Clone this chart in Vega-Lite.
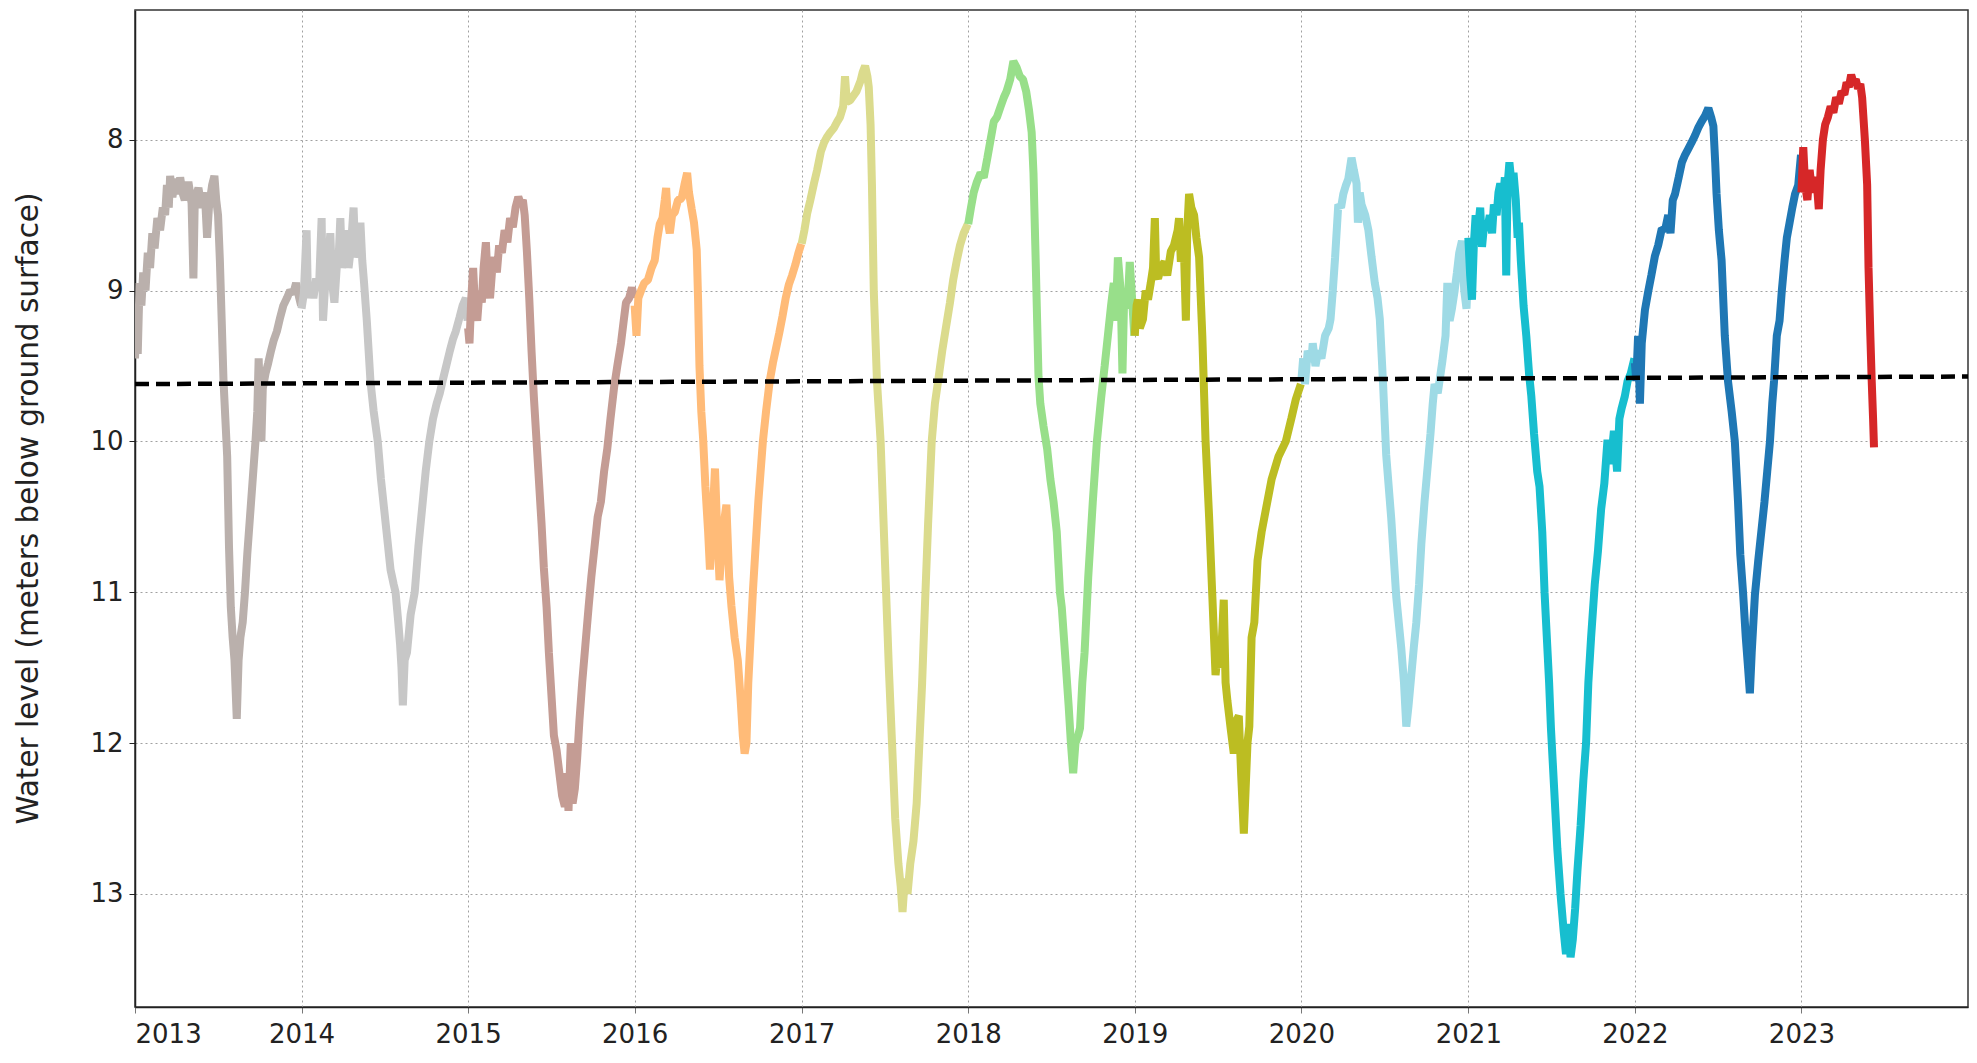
{
  "$schema": "https://vega.github.io/schema/vega-lite/v6.json",
  "width": 1833,
  "height": 997,
  "autosize": {"type": "none"},
  "padding": {"left": 135, "top": 10, "right": 9, "bottom": 56},
  "background": "white",
  "config": {
    "view": {"stroke": "#333", "strokeWidth": 1.5},
    "axis": {
      "labelFont": "DejaVu Sans",
      "titleFont": "DejaVu Sans",
      "labelColor": "#222",
      "titleColor": "#222",
      "domainColor": "#222",
      "domainWidth": 1.5,
      "grid": true,
      "gridColor": "#a0a0a0",
      "gridDash": [2, 3],
      "gridWidth": 1
    }
  },
  "datasets": {
    "wl": [
      {"d":"2013-01-01","v":9.45,"yr":"2013"},{"d":"2013-01-04","v":9.2,"yr":"2013"},{"d":"2013-01-07","v":9.42,"yr":"2013"},{"d":"2013-01-11","v":8.95,"yr":"2013"},{"d":"2013-01-15","v":9.1,"yr":"2013"},{"d":"2013-01-19","v":8.88,"yr":"2013"},{"d":"2013-01-24","v":9.0,"yr":"2013"},{"d":"2013-01-29","v":8.75,"yr":"2013"},{"d":"2013-02-03","v":8.85,"yr":"2013"},{"d":"2013-02-08","v":8.62,"yr":"2013"},{"d":"2013-02-13","v":8.72,"yr":"2013"},{"d":"2013-02-19","v":8.52,"yr":"2013"},{"d":"2013-02-25","v":8.6,"yr":"2013"},{"d":"2013-03-03","v":8.45,"yr":"2013"},{"d":"2013-03-08","v":8.5,"yr":"2013"},{"d":"2013-03-12","v":8.3,"yr":"2013"},{"d":"2013-03-16","v":8.45,"yr":"2013"},{"d":"2013-03-19","v":8.24,"yr":"2013"},{"d":"2013-03-24","v":8.38,"yr":"2013"},{"d":"2013-03-30","v":8.26,"yr":"2013"},{"d":"2013-04-05","v":8.36,"yr":"2013"},{"d":"2013-04-10","v":8.25,"yr":"2013"},{"d":"2013-04-15","v":8.35,"yr":"2013"},{"d":"2013-04-20","v":8.4,"yr":"2013"},{"d":"2013-04-28","v":8.28,"yr":"2013"},{"d":"2013-05-05","v":8.42,"yr":"2013"},{"d":"2013-05-09","v":8.92,"yr":"2013"},{"d":"2013-05-12","v":8.4,"yr":"2013"},{"d":"2013-05-20","v":8.32,"yr":"2013"},{"d":"2013-05-27","v":8.45,"yr":"2013"},{"d":"2013-06-03","v":8.35,"yr":"2013"},{"d":"2013-06-08","v":8.65,"yr":"2013"},{"d":"2013-06-12","v":8.45,"yr":"2013"},{"d":"2013-06-19","v":8.3,"yr":"2013"},{"d":"2013-06-24","v":8.24,"yr":"2013"},{"d":"2013-06-28","v":8.4,"yr":"2013"},{"d":"2013-07-02","v":8.5,"yr":"2013"},{"d":"2013-07-06","v":8.8,"yr":"2013"},{"d":"2013-07-10","v":9.2,"yr":"2013"},{"d":"2013-07-14","v":9.6,"yr":"2013"},{"d":"2013-07-18","v":9.85,"yr":"2013"},{"d":"2013-07-22","v":10.1,"yr":"2013"},{"d":"2013-07-26","v":10.7,"yr":"2013"},{"d":"2013-07-30","v":11.1,"yr":"2013"},{"d":"2013-08-03","v":11.3,"yr":"2013"},{"d":"2013-08-07","v":11.45,"yr":"2013"},{"d":"2013-08-12","v":11.84,"yr":"2013"},{"d":"2013-08-16","v":11.45,"yr":"2013"},{"d":"2013-08-20","v":11.3,"yr":"2013"},{"d":"2013-08-25","v":11.2,"yr":"2013"},{"d":"2013-08-30","v":11.0,"yr":"2013"},{"d":"2013-09-04","v":10.75,"yr":"2013"},{"d":"2013-09-10","v":10.5,"yr":"2013"},{"d":"2013-09-16","v":10.25,"yr":"2013"},{"d":"2013-09-22","v":10.0,"yr":"2013"},{"d":"2013-09-26","v":9.8,"yr":"2013"},{"d":"2013-09-29","v":9.45,"yr":"2013"},{"d":"2013-10-02","v":9.75,"yr":"2013"},{"d":"2013-10-05","v":10.0,"yr":"2013"},{"d":"2013-10-08","v":9.65,"yr":"2013"},{"d":"2013-10-14","v":9.55,"yr":"2013"},{"d":"2013-10-20","v":9.48,"yr":"2013"},{"d":"2013-10-26","v":9.4,"yr":"2013"},{"d":"2013-11-01","v":9.33,"yr":"2013"},{"d":"2013-11-08","v":9.27,"yr":"2013"},{"d":"2013-11-15","v":9.18,"yr":"2013"},{"d":"2013-11-22","v":9.1,"yr":"2013"},{"d":"2013-11-30","v":9.05,"yr":"2013"},{"d":"2013-12-07","v":9.0,"yr":"2013"},{"d":"2013-12-14","v":9.02,"yr":"2013"},{"d":"2013-12-20","v":8.95,"yr":"2013"},{"d":"2013-12-27","v":9.05,"yr":"2013"},{"d":"2013-12-31","v":9.1,"yr":"2013"},

      {"d":"2014-01-01","v":9.12,"yr":"2014"},{"d":"2014-01-06","v":9.02,"yr":"2014"},{"d":"2014-01-12","v":8.6,"yr":"2014"},{"d":"2014-01-15","v":9.05,"yr":"2014"},{"d":"2014-01-21","v":8.95,"yr":"2014"},{"d":"2014-01-27","v":9.05,"yr":"2014"},{"d":"2014-02-02","v":8.92,"yr":"2014"},{"d":"2014-02-08","v":9.0,"yr":"2014"},{"d":"2014-02-14","v":8.52,"yr":"2014"},{"d":"2014-02-17","v":9.2,"yr":"2014"},{"d":"2014-02-22","v":8.95,"yr":"2014"},{"d":"2014-02-27","v":8.88,"yr":"2014"},{"d":"2014-03-05","v":8.62,"yr":"2014"},{"d":"2014-03-09","v":8.95,"yr":"2014"},{"d":"2014-03-14","v":9.08,"yr":"2014"},{"d":"2014-03-19","v":8.85,"yr":"2014"},{"d":"2014-03-23","v":8.8,"yr":"2014"},{"d":"2014-03-27","v":8.52,"yr":"2014"},{"d":"2014-03-31","v":8.85,"yr":"2014"},{"d":"2014-04-05","v":8.75,"yr":"2014"},{"d":"2014-04-10","v":8.6,"yr":"2014"},{"d":"2014-04-14","v":8.85,"yr":"2014"},{"d":"2014-04-19","v":8.72,"yr":"2014"},{"d":"2014-04-25","v":8.45,"yr":"2014"},{"d":"2014-04-29","v":8.78,"yr":"2014"},{"d":"2014-05-04","v":8.72,"yr":"2014"},{"d":"2014-05-10","v":8.55,"yr":"2014"},{"d":"2014-05-14","v":8.8,"yr":"2014"},{"d":"2014-05-18","v":8.95,"yr":"2014"},{"d":"2014-05-24","v":9.2,"yr":"2014"},{"d":"2014-06-01","v":9.6,"yr":"2014"},{"d":"2014-06-08","v":9.8,"yr":"2014"},{"d":"2014-06-17","v":10.0,"yr":"2014"},{"d":"2014-06-24","v":10.25,"yr":"2014"},{"d":"2014-07-01","v":10.45,"yr":"2014"},{"d":"2014-07-08","v":10.65,"yr":"2014"},{"d":"2014-07-15","v":10.85,"yr":"2014"},{"d":"2014-07-22","v":10.95,"yr":"2014"},{"d":"2014-07-26","v":11.0,"yr":"2014"},{"d":"2014-08-01","v":11.2,"yr":"2014"},{"d":"2014-08-05","v":11.35,"yr":"2014"},{"d":"2014-08-08","v":11.5,"yr":"2014"},{"d":"2014-08-11","v":11.75,"yr":"2014"},{"d":"2014-08-15","v":11.45,"yr":"2014"},{"d":"2014-08-20","v":11.4,"yr":"2014"},{"d":"2014-08-28","v":11.15,"yr":"2014"},{"d":"2014-09-06","v":11.0,"yr":"2014"},{"d":"2014-09-14","v":10.7,"yr":"2014"},{"d":"2014-09-22","v":10.45,"yr":"2014"},{"d":"2014-09-30","v":10.2,"yr":"2014"},{"d":"2014-10-08","v":10.0,"yr":"2014"},{"d":"2014-10-16","v":9.85,"yr":"2014"},{"d":"2014-10-24","v":9.75,"yr":"2014"},{"d":"2014-10-31","v":9.68,"yr":"2014"},{"d":"2014-11-06","v":9.6,"yr":"2014"},{"d":"2014-11-14","v":9.5,"yr":"2014"},{"d":"2014-11-22","v":9.4,"yr":"2014"},{"d":"2014-11-29","v":9.32,"yr":"2014"},{"d":"2014-12-05","v":9.27,"yr":"2014"},{"d":"2014-12-13","v":9.18,"yr":"2014"},{"d":"2014-12-20","v":9.1,"yr":"2014"},{"d":"2014-12-27","v":9.05,"yr":"2014"},{"d":"2014-12-31","v":9.2,"yr":"2014"},

      {"d":"2015-01-01","v":9.25,"yr":"2015"},{"d":"2015-01-04","v":9.35,"yr":"2015"},{"d":"2015-01-08","v":9.05,"yr":"2015"},{"d":"2015-01-12","v":8.85,"yr":"2015"},{"d":"2015-01-16","v":9.1,"yr":"2015"},{"d":"2015-01-21","v":9.2,"yr":"2015"},{"d":"2015-01-26","v":9.0,"yr":"2015"},{"d":"2015-01-31","v":9.08,"yr":"2015"},{"d":"2015-02-04","v":8.85,"yr":"2015"},{"d":"2015-02-09","v":8.68,"yr":"2015"},{"d":"2015-02-13","v":8.95,"yr":"2015"},{"d":"2015-02-18","v":9.05,"yr":"2015"},{"d":"2015-02-23","v":8.85,"yr":"2015"},{"d":"2015-02-28","v":8.78,"yr":"2015"},{"d":"2015-03-05","v":8.88,"yr":"2015"},{"d":"2015-03-10","v":8.7,"yr":"2015"},{"d":"2015-03-16","v":8.75,"yr":"2015"},{"d":"2015-03-22","v":8.6,"yr":"2015"},{"d":"2015-03-28","v":8.68,"yr":"2015"},{"d":"2015-04-03","v":8.52,"yr":"2015"},{"d":"2015-04-09","v":8.58,"yr":"2015"},{"d":"2015-04-15","v":8.45,"yr":"2015"},{"d":"2015-04-21","v":8.38,"yr":"2015"},{"d":"2015-04-26","v":8.42,"yr":"2015"},{"d":"2015-05-01","v":8.4,"yr":"2015"},{"d":"2015-05-05","v":8.5,"yr":"2015"},{"d":"2015-05-10","v":8.75,"yr":"2015"},{"d":"2015-05-15","v":9.05,"yr":"2015"},{"d":"2015-05-20","v":9.4,"yr":"2015"},{"d":"2015-05-25","v":9.7,"yr":"2015"},{"d":"2015-05-31","v":10.0,"yr":"2015"},{"d":"2015-06-05","v":10.25,"yr":"2015"},{"d":"2015-06-11","v":10.55,"yr":"2015"},{"d":"2015-06-16","v":10.84,"yr":"2015"},{"d":"2015-06-22","v":11.1,"yr":"2015"},{"d":"2015-06-27","v":11.4,"yr":"2015"},{"d":"2015-07-03","v":11.7,"yr":"2015"},{"d":"2015-07-08","v":11.95,"yr":"2015"},{"d":"2015-07-14","v":12.05,"yr":"2015"},{"d":"2015-07-20","v":12.2,"yr":"2015"},{"d":"2015-07-26","v":12.35,"yr":"2015"},{"d":"2015-08-01","v":12.42,"yr":"2015"},{"d":"2015-08-05","v":12.2,"yr":"2015"},{"d":"2015-08-09","v":12.45,"yr":"2015"},{"d":"2015-08-14","v":12.0,"yr":"2015"},{"d":"2015-08-18","v":12.4,"yr":"2015"},{"d":"2015-08-23","v":12.3,"yr":"2015"},{"d":"2015-08-28","v":12.1,"yr":"2015"},{"d":"2015-09-02","v":11.85,"yr":"2015"},{"d":"2015-09-08","v":11.6,"yr":"2015"},{"d":"2015-09-15","v":11.35,"yr":"2015"},{"d":"2015-09-22","v":11.1,"yr":"2015"},{"d":"2015-09-28","v":10.9,"yr":"2015"},{"d":"2015-10-05","v":10.7,"yr":"2015"},{"d":"2015-10-12","v":10.5,"yr":"2015"},{"d":"2015-10-19","v":10.4,"yr":"2015"},{"d":"2015-10-26","v":10.2,"yr":"2015"},{"d":"2015-11-02","v":10.05,"yr":"2015"},{"d":"2015-11-09","v":9.85,"yr":"2015"},{"d":"2015-11-17","v":9.64,"yr":"2015"},{"d":"2015-11-24","v":9.5,"yr":"2015"},{"d":"2015-12-02","v":9.35,"yr":"2015"},{"d":"2015-12-08","v":9.2,"yr":"2015"},{"d":"2015-12-13","v":9.08,"yr":"2015"},{"d":"2015-12-20","v":9.05,"yr":"2015"},{"d":"2015-12-26","v":8.98,"yr":"2015"},{"d":"2015-12-31","v":9.05,"yr":"2015"},

      {"d":"2016-01-01","v":9.1,"yr":"2016"},{"d":"2016-01-05","v":9.3,"yr":"2016"},{"d":"2016-01-09","v":9.05,"yr":"2016"},{"d":"2016-01-15","v":9.0,"yr":"2016"},{"d":"2016-01-22","v":8.95,"yr":"2016"},{"d":"2016-01-30","v":8.93,"yr":"2016"},{"d":"2016-02-07","v":8.85,"yr":"2016"},{"d":"2016-02-14","v":8.8,"yr":"2016"},{"d":"2016-02-20","v":8.65,"yr":"2016"},{"d":"2016-02-25","v":8.56,"yr":"2016"},{"d":"2016-03-02","v":8.52,"yr":"2016"},{"d":"2016-03-07","v":8.4,"yr":"2016"},{"d":"2016-03-10","v":8.32,"yr":"2016"},{"d":"2016-03-14","v":8.55,"yr":"2016"},{"d":"2016-03-18","v":8.62,"yr":"2016"},{"d":"2016-03-23","v":8.5,"yr":"2016"},{"d":"2016-03-29","v":8.48,"yr":"2016"},{"d":"2016-04-05","v":8.4,"yr":"2016"},{"d":"2016-04-13","v":8.39,"yr":"2016"},{"d":"2016-04-19","v":8.3,"yr":"2016"},{"d":"2016-04-25","v":8.22,"yr":"2016"},{"d":"2016-04-29","v":8.35,"yr":"2016"},{"d":"2016-05-05","v":8.46,"yr":"2016"},{"d":"2016-05-10","v":8.55,"yr":"2016"},{"d":"2016-05-16","v":8.73,"yr":"2016"},{"d":"2016-05-19","v":9.06,"yr":"2016"},{"d":"2016-05-22","v":9.5,"yr":"2016"},{"d":"2016-05-26","v":9.8,"yr":"2016"},{"d":"2016-05-30","v":9.98,"yr":"2016"},{"d":"2016-06-04","v":10.3,"yr":"2016"},{"d":"2016-06-10","v":10.6,"yr":"2016"},{"d":"2016-06-14","v":10.85,"yr":"2016"},{"d":"2016-06-20","v":10.5,"yr":"2016"},{"d":"2016-06-25","v":10.18,"yr":"2016"},{"d":"2016-06-30","v":10.6,"yr":"2016"},{"d":"2016-07-05","v":10.92,"yr":"2016"},{"d":"2016-07-12","v":10.6,"yr":"2016"},{"d":"2016-07-20","v":10.42,"yr":"2016"},{"d":"2016-07-26","v":10.9,"yr":"2016"},{"d":"2016-07-31","v":11.09,"yr":"2016"},{"d":"2016-08-07","v":11.3,"yr":"2016"},{"d":"2016-08-14","v":11.45,"yr":"2016"},{"d":"2016-08-20","v":11.7,"yr":"2016"},{"d":"2016-08-25","v":11.95,"yr":"2016"},{"d":"2016-08-29","v":12.07,"yr":"2016"},{"d":"2016-09-02","v":12.0,"yr":"2016"},{"d":"2016-09-06","v":11.6,"yr":"2016"},{"d":"2016-09-11","v":11.3,"yr":"2016"},{"d":"2016-09-16","v":11.0,"yr":"2016"},{"d":"2016-09-22","v":10.7,"yr":"2016"},{"d":"2016-09-28","v":10.4,"yr":"2016"},{"d":"2016-10-03","v":10.2,"yr":"2016"},{"d":"2016-10-08","v":10.0,"yr":"2016"},{"d":"2016-10-15","v":9.8,"yr":"2016"},{"d":"2016-10-23","v":9.6,"yr":"2016"},{"d":"2016-10-30","v":9.48,"yr":"2016"},{"d":"2016-11-06","v":9.38,"yr":"2016"},{"d":"2016-11-13","v":9.28,"yr":"2016"},{"d":"2016-11-20","v":9.17,"yr":"2016"},{"d":"2016-11-27","v":9.05,"yr":"2016"},{"d":"2016-12-04","v":8.96,"yr":"2016"},{"d":"2016-12-11","v":8.9,"yr":"2016"},{"d":"2016-12-18","v":8.83,"yr":"2016"},{"d":"2016-12-25","v":8.75,"yr":"2016"},{"d":"2016-12-31","v":8.69,"yr":"2016"},

      {"d":"2017-01-01","v":8.69,"yr":"2017"},{"d":"2017-01-07","v":8.6,"yr":"2017"},{"d":"2017-01-13","v":8.49,"yr":"2017"},{"d":"2017-01-20","v":8.4,"yr":"2017"},{"d":"2017-01-28","v":8.29,"yr":"2017"},{"d":"2017-02-04","v":8.2,"yr":"2017"},{"d":"2017-02-12","v":8.08,"yr":"2017"},{"d":"2017-02-19","v":8.02,"yr":"2017"},{"d":"2017-02-26","v":7.98,"yr":"2017"},{"d":"2017-03-05","v":7.95,"yr":"2017"},{"d":"2017-03-13","v":7.92,"yr":"2017"},{"d":"2017-03-20","v":7.88,"yr":"2017"},{"d":"2017-03-26","v":7.85,"yr":"2017"},{"d":"2017-04-02","v":7.78,"yr":"2017"},{"d":"2017-04-06","v":7.58,"yr":"2017"},{"d":"2017-04-10","v":7.75,"yr":"2017"},{"d":"2017-04-17","v":7.74,"yr":"2017"},{"d":"2017-04-24","v":7.71,"yr":"2017"},{"d":"2017-05-01","v":7.68,"yr":"2017"},{"d":"2017-05-10","v":7.61,"yr":"2017"},{"d":"2017-05-15","v":7.55,"yr":"2017"},{"d":"2017-05-20","v":7.51,"yr":"2017"},{"d":"2017-05-25","v":7.58,"yr":"2017"},{"d":"2017-05-28","v":7.65,"yr":"2017"},{"d":"2017-06-01","v":7.9,"yr":"2017"},{"d":"2017-06-04","v":8.3,"yr":"2017"},{"d":"2017-06-08","v":9.0,"yr":"2017"},{"d":"2017-06-15","v":9.6,"yr":"2017"},{"d":"2017-06-23","v":10.0,"yr":"2017"},{"d":"2017-06-29","v":10.5,"yr":"2017"},{"d":"2017-07-05","v":11.0,"yr":"2017"},{"d":"2017-07-11","v":11.5,"yr":"2017"},{"d":"2017-07-18","v":12.0,"yr":"2017"},{"d":"2017-07-25","v":12.5,"yr":"2017"},{"d":"2017-08-01","v":12.8,"yr":"2017"},{"d":"2017-08-06","v":12.95,"yr":"2017"},{"d":"2017-08-10","v":13.12,"yr":"2017"},{"d":"2017-08-15","v":12.9,"yr":"2017"},{"d":"2017-08-21","v":13.0,"yr":"2017"},{"d":"2017-08-27","v":12.8,"yr":"2017"},{"d":"2017-09-03","v":12.65,"yr":"2017"},{"d":"2017-09-10","v":12.4,"yr":"2017"},{"d":"2017-09-16","v":12.0,"yr":"2017"},{"d":"2017-09-22","v":11.6,"yr":"2017"},{"d":"2017-09-28","v":11.1,"yr":"2017"},{"d":"2017-10-05","v":10.55,"yr":"2017"},{"d":"2017-10-13","v":10.0,"yr":"2017"},{"d":"2017-10-20","v":9.75,"yr":"2017"},{"d":"2017-10-27","v":9.6,"yr":"2017"},{"d":"2017-11-05","v":9.4,"yr":"2017"},{"d":"2017-11-14","v":9.23,"yr":"2017"},{"d":"2017-11-22","v":9.08,"yr":"2017"},{"d":"2017-11-29","v":8.93,"yr":"2017"},{"d":"2017-12-07","v":8.8,"yr":"2017"},{"d":"2017-12-14","v":8.7,"yr":"2017"},{"d":"2017-12-22","v":8.62,"yr":"2017"},{"d":"2017-12-31","v":8.56,"yr":"2017"},

      {"d":"2018-01-01","v":8.56,"yr":"2018"},{"d":"2018-01-07","v":8.45,"yr":"2018"},{"d":"2018-01-13","v":8.35,"yr":"2018"},{"d":"2018-01-20","v":8.28,"yr":"2018"},{"d":"2018-01-28","v":8.22,"yr":"2018"},{"d":"2018-02-04","v":8.25,"yr":"2018"},{"d":"2018-02-12","v":8.12,"yr":"2018"},{"d":"2018-02-19","v":8.0,"yr":"2018"},{"d":"2018-02-26","v":7.88,"yr":"2018"},{"d":"2018-03-05","v":7.85,"yr":"2018"},{"d":"2018-03-13","v":7.78,"yr":"2018"},{"d":"2018-03-20","v":7.72,"yr":"2018"},{"d":"2018-03-26","v":7.68,"yr":"2018"},{"d":"2018-04-03","v":7.6,"yr":"2018"},{"d":"2018-04-10","v":7.48,"yr":"2018"},{"d":"2018-04-17","v":7.52,"yr":"2018"},{"d":"2018-04-24","v":7.58,"yr":"2018"},{"d":"2018-05-01","v":7.6,"yr":"2018"},{"d":"2018-05-08","v":7.68,"yr":"2018"},{"d":"2018-05-14","v":7.8,"yr":"2018"},{"d":"2018-05-20","v":7.95,"yr":"2018"},{"d":"2018-05-24","v":8.22,"yr":"2018"},{"d":"2018-05-28","v":8.7,"yr":"2018"},{"d":"2018-06-01","v":9.2,"yr":"2018"},{"d":"2018-06-04","v":9.57,"yr":"2018"},{"d":"2018-06-08","v":9.75,"yr":"2018"},{"d":"2018-06-15","v":9.9,"yr":"2018"},{"d":"2018-06-23","v":10.05,"yr":"2018"},{"d":"2018-06-30","v":10.25,"yr":"2018"},{"d":"2018-07-07","v":10.4,"yr":"2018"},{"d":"2018-07-14","v":10.6,"yr":"2018"},{"d":"2018-07-21","v":11.0,"yr":"2018"},{"d":"2018-07-25","v":11.1,"yr":"2018"},{"d":"2018-08-01","v":11.4,"yr":"2018"},{"d":"2018-08-09","v":11.75,"yr":"2018"},{"d":"2018-08-14","v":12.0,"yr":"2018"},{"d":"2018-08-19","v":12.2,"yr":"2018"},{"d":"2018-08-24","v":12.0,"yr":"2018"},{"d":"2018-08-30","v":11.95,"yr":"2018"},{"d":"2018-09-03","v":11.9,"yr":"2018"},{"d":"2018-09-08","v":11.6,"yr":"2018"},{"d":"2018-09-13","v":11.4,"yr":"2018"},{"d":"2018-09-21","v":10.9,"yr":"2018"},{"d":"2018-10-01","v":10.4,"yr":"2018"},{"d":"2018-10-10","v":10.0,"yr":"2018"},{"d":"2018-10-19","v":9.72,"yr":"2018"},{"d":"2018-10-27","v":9.5,"yr":"2018"},{"d":"2018-11-03","v":9.3,"yr":"2018"},{"d":"2018-11-10","v":9.1,"yr":"2018"},{"d":"2018-11-16","v":8.95,"yr":"2018"},{"d":"2018-11-20","v":9.2,"yr":"2018"},{"d":"2018-11-25","v":8.78,"yr":"2018"},{"d":"2018-12-01","v":9.0,"yr":"2018"},{"d":"2018-12-05","v":9.55,"yr":"2018"},{"d":"2018-12-09","v":9.0,"yr":"2018"},{"d":"2018-12-16","v":9.12,"yr":"2018"},{"d":"2018-12-21","v":8.81,"yr":"2018"},{"d":"2018-12-26","v":9.05,"yr":"2018"},{"d":"2018-12-31","v":9.3,"yr":"2018"},

      {"d":"2019-01-01","v":9.3,"yr":"2019"},{"d":"2019-01-05","v":9.1,"yr":"2019"},{"d":"2019-01-08","v":9.06,"yr":"2019"},{"d":"2019-01-12","v":9.25,"yr":"2019"},{"d":"2019-01-19","v":9.19,"yr":"2019"},{"d":"2019-01-25","v":9.0,"yr":"2019"},{"d":"2019-01-30","v":9.06,"yr":"2019"},{"d":"2019-02-05","v":8.95,"yr":"2019"},{"d":"2019-02-10","v":8.85,"yr":"2019"},{"d":"2019-02-14","v":8.52,"yr":"2019"},{"d":"2019-02-17","v":8.9,"yr":"2019"},{"d":"2019-02-21","v":8.92,"yr":"2019"},{"d":"2019-02-27","v":8.85,"yr":"2019"},{"d":"2019-03-07","v":8.81,"yr":"2019"},{"d":"2019-03-13","v":8.9,"yr":"2019"},{"d":"2019-03-21","v":8.74,"yr":"2019"},{"d":"2019-03-28","v":8.7,"yr":"2019"},{"d":"2019-04-05","v":8.6,"yr":"2019"},{"d":"2019-04-08","v":8.52,"yr":"2019"},{"d":"2019-04-12","v":8.81,"yr":"2019"},{"d":"2019-04-18","v":8.65,"yr":"2019"},{"d":"2019-04-23","v":9.2,"yr":"2019"},{"d":"2019-04-26","v":8.6,"yr":"2019"},{"d":"2019-04-30","v":8.36,"yr":"2019"},{"d":"2019-05-05","v":8.45,"yr":"2019"},{"d":"2019-05-11","v":8.5,"yr":"2019"},{"d":"2019-05-16","v":8.65,"yr":"2019"},{"d":"2019-05-22","v":8.78,"yr":"2019"},{"d":"2019-05-29","v":9.3,"yr":"2019"},{"d":"2019-06-05","v":9.99,"yr":"2019"},{"d":"2019-06-13","v":10.51,"yr":"2019"},{"d":"2019-06-20","v":11.03,"yr":"2019"},{"d":"2019-06-27","v":11.55,"yr":"2019"},{"d":"2019-07-02","v":11.4,"yr":"2019"},{"d":"2019-07-08","v":11.5,"yr":"2019"},{"d":"2019-07-15","v":11.05,"yr":"2019"},{"d":"2019-07-19","v":11.6,"yr":"2019"},{"d":"2019-07-23","v":11.72,"yr":"2019"},{"d":"2019-07-30","v":11.9,"yr":"2019"},{"d":"2019-08-06","v":12.07,"yr":"2019"},{"d":"2019-08-12","v":11.85,"yr":"2019"},{"d":"2019-08-17","v":11.82,"yr":"2019"},{"d":"2019-08-22","v":12.2,"yr":"2019"},{"d":"2019-08-28","v":12.6,"yr":"2019"},{"d":"2019-09-01","v":12.3,"yr":"2019"},{"d":"2019-09-05","v":12.0,"yr":"2019"},{"d":"2019-09-09","v":11.89,"yr":"2019"},{"d":"2019-09-14","v":11.3,"yr":"2019"},{"d":"2019-09-20","v":11.2,"yr":"2019"},{"d":"2019-09-27","v":10.79,"yr":"2019"},{"d":"2019-10-06","v":10.6,"yr":"2019"},{"d":"2019-10-16","v":10.44,"yr":"2019"},{"d":"2019-10-28","v":10.25,"yr":"2019"},{"d":"2019-11-12","v":10.1,"yr":"2019"},{"d":"2019-11-28","v":10.0,"yr":"2019"},{"d":"2019-12-10","v":9.85,"yr":"2019"},{"d":"2019-12-20","v":9.72,"yr":"2019"},{"d":"2019-12-31","v":9.62,"yr":"2019"},

      {"d":"2020-01-01","v":9.6,"yr":"2020"},{"d":"2020-01-05","v":9.45,"yr":"2020"},{"d":"2020-01-09","v":9.62,"yr":"2020"},{"d":"2020-01-15","v":9.4,"yr":"2020"},{"d":"2020-01-23","v":9.47,"yr":"2020"},{"d":"2020-01-26","v":9.35,"yr":"2020"},{"d":"2020-02-01","v":9.5,"yr":"2020"},{"d":"2020-02-07","v":9.4,"yr":"2020"},{"d":"2020-02-14","v":9.45,"yr":"2020"},{"d":"2020-02-22","v":9.3,"yr":"2020"},{"d":"2020-03-01","v":9.25,"yr":"2020"},{"d":"2020-03-05","v":9.19,"yr":"2020"},{"d":"2020-03-10","v":9.0,"yr":"2020"},{"d":"2020-03-15","v":8.78,"yr":"2020"},{"d":"2020-03-22","v":8.43,"yr":"2020"},{"d":"2020-03-28","v":8.45,"yr":"2020"},{"d":"2020-04-02","v":8.36,"yr":"2020"},{"d":"2020-04-08","v":8.3,"yr":"2020"},{"d":"2020-04-13","v":8.26,"yr":"2020"},{"d":"2020-04-20","v":8.12,"yr":"2020"},{"d":"2020-04-25","v":8.2,"yr":"2020"},{"d":"2020-05-01","v":8.29,"yr":"2020"},{"d":"2020-05-04","v":8.55,"yr":"2020"},{"d":"2020-05-08","v":8.35,"yr":"2020"},{"d":"2020-05-12","v":8.43,"yr":"2020"},{"d":"2020-05-20","v":8.5,"yr":"2020"},{"d":"2020-05-27","v":8.6,"yr":"2020"},{"d":"2020-06-03","v":8.78,"yr":"2020"},{"d":"2020-06-10","v":8.95,"yr":"2020"},{"d":"2020-06-16","v":9.05,"yr":"2020"},{"d":"2020-06-21","v":9.19,"yr":"2020"},{"d":"2020-06-28","v":9.61,"yr":"2020"},{"d":"2020-07-05","v":10.09,"yr":"2020"},{"d":"2020-07-16","v":10.51,"yr":"2020"},{"d":"2020-07-27","v":11.03,"yr":"2020"},{"d":"2020-08-07","v":11.37,"yr":"2020"},{"d":"2020-08-13","v":11.6,"yr":"2020"},{"d":"2020-08-18","v":11.89,"yr":"2020"},{"d":"2020-08-23","v":11.75,"yr":"2020"},{"d":"2020-08-29","v":11.55,"yr":"2020"},{"d":"2020-09-04","v":11.35,"yr":"2020"},{"d":"2020-09-09","v":11.2,"yr":"2020"},{"d":"2020-09-15","v":10.95,"yr":"2020"},{"d":"2020-09-20","v":10.68,"yr":"2020"},{"d":"2020-09-27","v":10.4,"yr":"2020"},{"d":"2020-10-04","v":10.16,"yr":"2020"},{"d":"2020-10-10","v":9.95,"yr":"2020"},{"d":"2020-10-15","v":9.75,"yr":"2020"},{"d":"2020-10-19","v":9.62,"yr":"2020"},{"d":"2020-10-26","v":9.68,"yr":"2020"},{"d":"2020-11-05","v":9.47,"yr":"2020"},{"d":"2020-11-12","v":9.3,"yr":"2020"},{"d":"2020-11-16","v":8.95,"yr":"2020"},{"d":"2020-11-21","v":9.2,"yr":"2020"},{"d":"2020-11-26","v":9.12,"yr":"2020"},{"d":"2020-12-02","v":9.0,"yr":"2020"},{"d":"2020-12-07","v":8.88,"yr":"2020"},{"d":"2020-12-12","v":8.75,"yr":"2020"},{"d":"2020-12-18","v":8.67,"yr":"2020"},{"d":"2020-12-23","v":9.0,"yr":"2020"},{"d":"2020-12-28","v":9.12,"yr":"2020"},{"d":"2020-12-31","v":8.9,"yr":"2020"},

      {"d":"2021-01-01","v":8.65,"yr":"2021"},{"d":"2021-01-05","v":8.9,"yr":"2021"},{"d":"2021-01-09","v":9.06,"yr":"2021"},{"d":"2021-01-13","v":8.7,"yr":"2021"},{"d":"2021-01-17","v":8.5,"yr":"2021"},{"d":"2021-01-22","v":8.6,"yr":"2021"},{"d":"2021-01-27","v":8.45,"yr":"2021"},{"d":"2021-01-31","v":8.71,"yr":"2021"},{"d":"2021-02-05","v":8.55,"yr":"2021"},{"d":"2021-02-11","v":8.6,"yr":"2021"},{"d":"2021-02-17","v":8.5,"yr":"2021"},{"d":"2021-02-22","v":8.62,"yr":"2021"},{"d":"2021-02-26","v":8.43,"yr":"2021"},{"d":"2021-03-04","v":8.5,"yr":"2021"},{"d":"2021-03-08","v":8.35,"yr":"2021"},{"d":"2021-03-12","v":8.29,"yr":"2021"},{"d":"2021-03-18","v":8.4,"yr":"2021"},{"d":"2021-03-22","v":8.25,"yr":"2021"},{"d":"2021-03-25","v":8.9,"yr":"2021"},{"d":"2021-03-28","v":8.3,"yr":"2021"},{"d":"2021-04-01","v":8.15,"yr":"2021"},{"d":"2021-04-06","v":8.3,"yr":"2021"},{"d":"2021-04-10","v":8.22,"yr":"2021"},{"d":"2021-04-15","v":8.4,"yr":"2021"},{"d":"2021-04-19","v":8.65,"yr":"2021"},{"d":"2021-04-22","v":8.55,"yr":"2021"},{"d":"2021-04-26","v":8.8,"yr":"2021"},{"d":"2021-05-02","v":9.1,"yr":"2021"},{"d":"2021-05-08","v":9.3,"yr":"2021"},{"d":"2021-05-14","v":9.55,"yr":"2021"},{"d":"2021-05-19","v":9.7,"yr":"2021"},{"d":"2021-05-25","v":9.95,"yr":"2021"},{"d":"2021-06-01","v":10.2,"yr":"2021"},{"d":"2021-06-06","v":10.3,"yr":"2021"},{"d":"2021-06-12","v":10.6,"yr":"2021"},{"d":"2021-06-17","v":11.0,"yr":"2021"},{"d":"2021-06-22","v":11.3,"yr":"2021"},{"d":"2021-06-27","v":11.6,"yr":"2021"},{"d":"2021-07-01","v":11.9,"yr":"2021"},{"d":"2021-07-08","v":12.3,"yr":"2021"},{"d":"2021-07-15","v":12.7,"yr":"2021"},{"d":"2021-07-22","v":13.0,"yr":"2021"},{"d":"2021-07-29","v":13.25,"yr":"2021"},{"d":"2021-08-03","v":13.4,"yr":"2021"},{"d":"2021-08-08","v":13.2,"yr":"2021"},{"d":"2021-08-13","v":13.42,"yr":"2021"},{"d":"2021-08-18","v":13.3,"yr":"2021"},{"d":"2021-08-23","v":13.1,"yr":"2021"},{"d":"2021-08-28","v":12.85,"yr":"2021"},{"d":"2021-09-04","v":12.55,"yr":"2021"},{"d":"2021-09-10","v":12.25,"yr":"2021"},{"d":"2021-09-16","v":12.0,"yr":"2021"},{"d":"2021-09-21","v":11.6,"yr":"2021"},{"d":"2021-09-27","v":11.3,"yr":"2021"},{"d":"2021-10-05","v":10.95,"yr":"2021"},{"d":"2021-10-12","v":10.73,"yr":"2021"},{"d":"2021-10-19","v":10.45,"yr":"2021"},{"d":"2021-10-26","v":10.28,"yr":"2021"},{"d":"2021-11-02","v":9.99,"yr":"2021"},{"d":"2021-11-09","v":10.15,"yr":"2021"},{"d":"2021-11-16","v":9.93,"yr":"2021"},{"d":"2021-11-23","v":10.2,"yr":"2021"},{"d":"2021-11-28","v":9.85,"yr":"2021"},{"d":"2021-12-03","v":9.78,"yr":"2021"},{"d":"2021-12-10","v":9.7,"yr":"2021"},{"d":"2021-12-16","v":9.6,"yr":"2021"},{"d":"2021-12-23","v":9.55,"yr":"2021"},{"d":"2021-12-31","v":9.45,"yr":"2021"},

      {"d":"2022-01-01","v":9.48,"yr":"2022"},{"d":"2022-01-04","v":9.6,"yr":"2022"},{"d":"2022-01-08","v":9.3,"yr":"2022"},{"d":"2022-01-12","v":9.75,"yr":"2022"},{"d":"2022-01-16","v":9.35,"yr":"2022"},{"d":"2022-01-23","v":9.13,"yr":"2022"},{"d":"2022-01-30","v":9.01,"yr":"2022"},{"d":"2022-02-06","v":8.9,"yr":"2022"},{"d":"2022-02-14","v":8.77,"yr":"2022"},{"d":"2022-02-21","v":8.7,"yr":"2022"},{"d":"2022-03-01","v":8.59,"yr":"2022"},{"d":"2022-03-08","v":8.6,"yr":"2022"},{"d":"2022-03-15","v":8.5,"yr":"2022"},{"d":"2022-03-20","v":8.62,"yr":"2022"},{"d":"2022-03-25","v":8.4,"yr":"2022"},{"d":"2022-03-30","v":8.36,"yr":"2022"},{"d":"2022-04-07","v":8.25,"yr":"2022"},{"d":"2022-04-14","v":8.15,"yr":"2022"},{"d":"2022-04-21","v":8.1,"yr":"2022"},{"d":"2022-04-28","v":8.06,"yr":"2022"},{"d":"2022-05-05","v":8.02,"yr":"2022"},{"d":"2022-05-13","v":7.97,"yr":"2022"},{"d":"2022-05-20","v":7.92,"yr":"2022"},{"d":"2022-05-27","v":7.88,"yr":"2022"},{"d":"2022-06-04","v":7.84,"yr":"2022"},{"d":"2022-06-11","v":7.79,"yr":"2022"},{"d":"2022-06-17","v":7.85,"yr":"2022"},{"d":"2022-06-22","v":7.91,"yr":"2022"},{"d":"2022-06-26","v":8.15,"yr":"2022"},{"d":"2022-06-29","v":8.36,"yr":"2022"},{"d":"2022-07-04","v":8.6,"yr":"2022"},{"d":"2022-07-10","v":8.8,"yr":"2022"},{"d":"2022-07-17","v":9.3,"yr":"2022"},{"d":"2022-07-24","v":9.6,"yr":"2022"},{"d":"2022-08-01","v":9.8,"yr":"2022"},{"d":"2022-08-08","v":10.0,"yr":"2022"},{"d":"2022-08-15","v":10.4,"yr":"2022"},{"d":"2022-08-20","v":10.75,"yr":"2022"},{"d":"2022-08-26","v":11.0,"yr":"2022"},{"d":"2022-09-01","v":11.3,"yr":"2022"},{"d":"2022-09-06","v":11.5,"yr":"2022"},{"d":"2022-09-10","v":11.67,"yr":"2022"},{"d":"2022-09-14","v":11.4,"yr":"2022"},{"d":"2022-09-21","v":11.02,"yr":"2022"},{"d":"2022-09-28","v":10.8,"yr":"2022"},{"d":"2022-10-05","v":10.6,"yr":"2022"},{"d":"2022-10-12","v":10.4,"yr":"2022"},{"d":"2022-10-18","v":10.2,"yr":"2022"},{"d":"2022-10-24","v":10.0,"yr":"2022"},{"d":"2022-10-29","v":9.75,"yr":"2022"},{"d":"2022-11-02","v":9.6,"yr":"2022"},{"d":"2022-11-08","v":9.3,"yr":"2022"},{"d":"2022-11-14","v":9.2,"yr":"2022"},{"d":"2022-11-19","v":9.0,"yr":"2022"},{"d":"2022-11-25","v":8.8,"yr":"2022"},{"d":"2022-11-30","v":8.65,"yr":"2022"},{"d":"2022-12-06","v":8.55,"yr":"2022"},{"d":"2022-12-12","v":8.45,"yr":"2022"},{"d":"2022-12-18","v":8.36,"yr":"2022"},{"d":"2022-12-25","v":8.3,"yr":"2022"},{"d":"2022-12-31","v":8.1,"yr":"2022"},

      {"d":"2023-01-01","v":8.35,"yr":"2023"},{"d":"2023-01-05","v":8.05,"yr":"2023"},{"d":"2023-01-09","v":8.3,"yr":"2023"},{"d":"2023-01-14","v":8.4,"yr":"2023"},{"d":"2023-01-19","v":8.2,"yr":"2023"},{"d":"2023-01-24","v":8.35,"yr":"2023"},{"d":"2023-01-30","v":8.25,"yr":"2023"},{"d":"2023-02-04","v":8.3,"yr":"2023"},{"d":"2023-02-08","v":8.46,"yr":"2023"},{"d":"2023-02-12","v":8.2,"yr":"2023"},{"d":"2023-02-17","v":8.0,"yr":"2023"},{"d":"2023-02-22","v":7.9,"yr":"2023"},{"d":"2023-02-28","v":7.85,"yr":"2023"},{"d":"2023-03-06","v":7.78,"yr":"2023"},{"d":"2023-03-12","v":7.82,"yr":"2023"},{"d":"2023-03-18","v":7.72,"yr":"2023"},{"d":"2023-03-24","v":7.76,"yr":"2023"},{"d":"2023-03-30","v":7.68,"yr":"2023"},{"d":"2023-04-05","v":7.7,"yr":"2023"},{"d":"2023-04-10","v":7.62,"yr":"2023"},{"d":"2023-04-15","v":7.65,"yr":"2023"},{"d":"2023-04-20","v":7.57,"yr":"2023"},{"d":"2023-04-25","v":7.62,"yr":"2023"},{"d":"2023-04-30","v":7.6,"yr":"2023"},{"d":"2023-05-05","v":7.66,"yr":"2023"},{"d":"2023-05-10","v":7.63,"yr":"2023"},{"d":"2023-05-14","v":7.72,"yr":"2023"},{"d":"2023-05-20","v":8.0,"yr":"2023"},{"d":"2023-05-25","v":8.3,"yr":"2023"},{"d":"2023-05-28","v":8.85,"yr":"2023"},{"d":"2023-06-01","v":9.3,"yr":"2023"},{"d":"2023-06-04","v":9.6,"yr":"2023"},{"d":"2023-06-07","v":9.85,"yr":"2023"},{"d":"2023-06-09","v":10.04,"yr":"2023"}
    ],
    "ref": [
      {"d": "2013-01-01", "v": 9.62},
      {"d": "2024-01-01", "v": 9.57}
    ]
  },
  "layer": [
    {
      "data": {"name": "wl"},
      "mark": {"type": "line", "strokeWidth": 8, "strokeJoin": "bevel", "clip": true},
      "encoding": {
        "x": {
          "field": "d",
          "type": "temporal",
          "scale": {"type": "utc", "domain": [{"year": 2013, "month": 1, "date": 1, "utc": true}, {"year": 2024, "month": 1, "date": 1, "utc": true}]},
          "axis": {
            "title": null,
            "format": "%Y",
            "values": [
              {"year": 2013, "month": 1, "date": 1, "utc": true},
              {"year": 2014, "month": 1, "date": 1, "utc": true},
              {"year": 2015, "month": 1, "date": 1, "utc": true},
              {"year": 2016, "month": 1, "date": 1, "utc": true},
              {"year": 2017, "month": 1, "date": 1, "utc": true},
              {"year": 2018, "month": 1, "date": 1, "utc": true},
              {"year": 2019, "month": 1, "date": 1, "utc": true},
              {"year": 2020, "month": 1, "date": 1, "utc": true},
              {"year": 2021, "month": 1, "date": 1, "utc": true},
              {"year": 2022, "month": 1, "date": 1, "utc": true},
              {"year": 2023, "month": 1, "date": 1, "utc": true}
            ],
            "labelFlush": true,
            "labelFontSize": 26,
            "labelPadding": 8,
            "tickSize": 6,
            "tickColor": "#777"
          }
        },
        "y": {
          "field": "v",
          "type": "quantitative",
          "scale": {"domain": [7.14, 13.75], "reverse": true, "nice": false, "zero": false},
          "axis": {
            "title": "Water level (meters below ground surface)",
            "values": [8, 9, 10, 11, 12, 13],
            "format": "d",
            "labelFontSize": 26,
            "labelPadding": 6,
            "tickSize": 6,
            "tickColor": "#222",
            "titleFontSize": 29.5,
            "titleFontWeight": "normal",
            "titleX": -107,
            "titleY": 498,
            "titleBaseline": "middle",
            "titleAngle": -90
          }
        },
        "color": {
          "field": "yr",
          "type": "nominal",
          "legend": null,
          "scale": {
            "domain": ["2013","2014","2015","2016","2017","2018","2019","2020","2021","2022","2023"],
            "range": ["#bab0ac","#c7c7c7","#c49c94","#ffbb78","#dbdb8d","#98df8a","#bcbd22","#9edae5","#17becf","#1f77b4","#d62728"]
          }
        }
      }
    },
    {
      "data": {"name": "ref"},
      "mark": {"type": "line", "color": "#000", "strokeWidth": 4.5, "strokeDash": [14, 7]},
      "encoding": {
        "x": {"field": "d", "type": "temporal"},
        "y": {"field": "v", "type": "quantitative"}
      }
    }
  ]
}
